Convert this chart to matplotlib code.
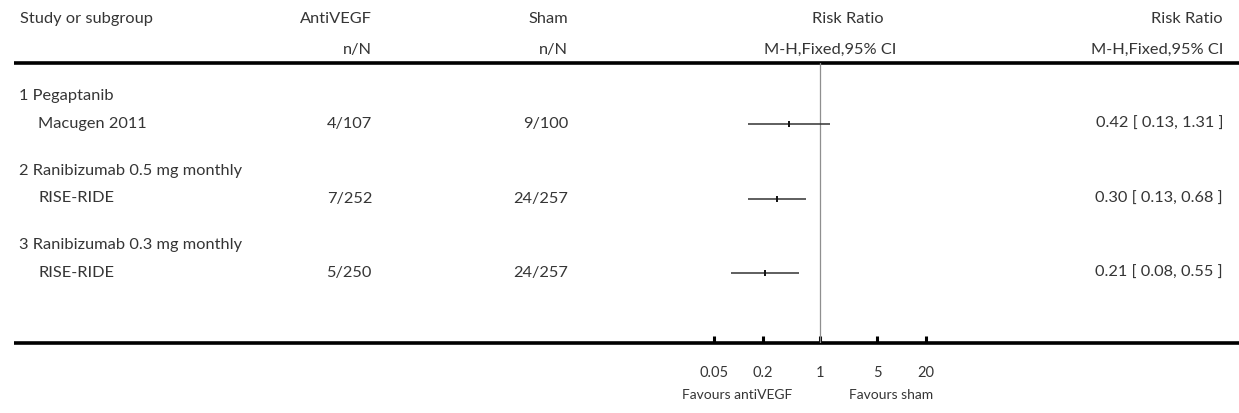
import matplotlib

matplotlib.use("Agg")
import matplotlib.pyplot as plt
from matplotlib.ticker import NullLocator

# Datos del forest plot (RR, M-H fixed, IC 95%)
subgroups = ["1 Pegaptanib", "2 Ranibizumab 0.5 mg monthly", "3 Ranibizumab 0.3 mg monthly"]
studies = ["Macugen 2011", "RISE-RIDE", "RISE-RIDE"]
antivegf_nN = ["4/107", "7/252", "5/250"]
sham_nN = ["9/100", "24/257", "24/257"]
rr = [0.42, 0.30, 0.21]
ci_lo = [0.13, 0.13, 0.08]
ci_hi = [1.31, 0.68, 0.55]
tick_vals = [0.05, 0.2, 1, 5, 20]
tick_labels = ["0.05", "0.2", "1", "5", "20"]

# Layout en píxeles de la figura
W, H = 1239, 413
_INK = "#353535"
_FONT = "Lato"
_FS = 11.8
_FS_AXIS = 10.5

fig = plt.figure(figsize=(W / 100, H / 100), dpi=100)
fig.patch.set_facecolor("white")

# ejes "tabla" a pantalla completa en coordenadas de píxel
tab = fig.add_axes([0, 0, 1, 1])
tab.set_xlim(0, W)
tab.set_ylim(H, 0)
tab.axis("off")


def txt(x, y, s, ha="left", fs=_FS):
    tab.text(x, y, s, ha=ha, va="center", fontsize=fs, color=_INK, family=_FONT)


# cabecera
txt(20, 19, "Study or subgroup")
txt(372, 19, "AntiVEGF", ha="right")
txt(372, 50, "n/N", ha="right")
txt(568, 19, "Sham", ha="right")
txt(568, 50, "n/N", ha="right")
txt(884, 19, "Risk Ratio", ha="right")
txt(896, 50, "M-H,Fixed,95% CI", ha="right")
txt(1223, 19, "Risk Ratio", ha="right")
txt(1223, 50, "M-H,Fixed,95% CI", ha="right")

y_top, y_bot = 63, 343
tab.plot([14, W], [y_top, y_top], color="black", lw=2.6, solid_capstyle="butt")
tab.plot([14, W], [y_bot, y_bot], color="black", lw=2.6, solid_capstyle="butt")

# filas
row_step = 74.5
y_study = [124 + row_step * i for i in range(len(studies))]
y_sub = [y - 28 for y in y_study]
for i in range(len(studies)):
    txt(19, y_sub[i], subgroups[i])
    txt(38, y_study[i], studies[i])
    txt(372, y_study[i], antivegf_nN[i], ha="right")
    txt(568, y_study[i], sham_nN[i], ha="right")
    txt(1223, y_study[i], f"{rr[i]:.2f} [ {ci_lo[i]:.2f}, {ci_hi[i]:.2f} ]", ha="right")

# ejes del forest (escala log): x=1 en 820 px, 81.5 px por década
px_dec = 81.5
x1 = 820
x_left = x1 - 2 * px_dec
ax = fig.add_axes([x_left / W, (H - y_bot) / H, 4 * px_dec / W, (y_bot - y_top) / H])
ax.set_xscale("log")
ax.set_xlim(0.01, 100)
ax.set_ylim(y_bot, y_top)
ax.patch.set_visible(False)
for s in ax.spines.values():
    s.set_visible(False)
ax.set_yticks([])
ax.set_xticks(tick_vals)
ax.set_xticklabels(tick_labels, fontsize=_FS_AXIS, color=_INK, family=_FONT)
ax.xaxis.set_minor_locator(NullLocator())
ax.tick_params(axis="x", direction="in", length=5, width=2.2, color="black", pad=16.5)

ax.axvline(1, color="#8f8f8f", lw=0.9)
ax.hlines(y_study, ci_lo, ci_hi, color="#333333", lw=1.1)
ax.plot(rr, y_study, ls="none", marker="|", ms=4, mew=1.4, color="#111111")

txt(737, 395, "Favours antiVEGF", ha="center", fs=_FS_AXIS - 0.5)
txt(891, 395, "Favours sham", ha="center", fs=_FS_AXIS - 0.5)

fig.savefig("out.png", dpi=100)
